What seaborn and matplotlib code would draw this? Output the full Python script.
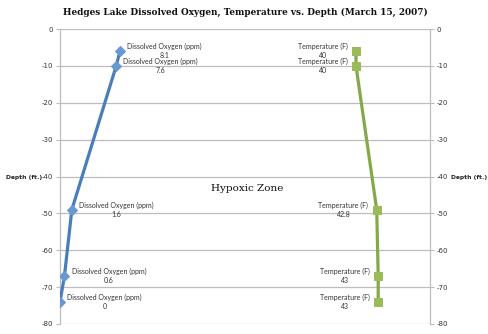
import matplotlib
matplotlib.use("Agg")
import matplotlib.pyplot as plt
import seaborn as sns
import pandas as pd

depth = [-6, -10, -49, -67, -74]
oxygen = [8.1, 7.6, 1.6, 0.6, 0.0]
temperature = [40, 40, 42.8, 43, 43]
oxygen_label = "Dissolved Oxygen (ppm)"
temp_label = "Temperature (F)"
y_ticks = [0, -10, -20, -30, -40, -50, -60, -70, -80]
title = "Hedges Lake Dissolved Oxygen, Temperature vs. Depth (March 15, 2007)"

sns.set_style("white")
plt.rcParams['font.family'] = ['DejaVu Sans']
plt.rcParams['axes.unicode_minus'] = False

blue = "#4A7EBB"
blue_m = "#6A98D0"
green = "#86A84A"
green_m = "#9BBB59"
grid_c = "#BDBDBD"

fig = plt.figure(figsize=(4.89, 3.34), dpi=100)
ax = fig.add_axes([60/489, 1-324/334, 370/489, (324-29)/334])

df_o = pd.DataFrame({"x": oxygen, "y": depth})
df_t = pd.DataFrame({"x": temperature, "y": depth})
sns.lineplot(data=df_o, x="x", y="y", sort=False, estimator=None, ax=ax,
             color=blue, lw=2.3, marker="D", markersize=5.5,
             markerfacecolor=blue_m, markeredgecolor=blue_m, zorder=3)
sns.lineplot(data=df_t, x="x", y="y", sort=False, estimator=None, ax=ax,
             color=green, lw=2.3, marker="s", markersize=5.5,
             markerfacecolor=green_m, markeredgecolor=green_m, zorder=3)

ax.set_xlim(0, 50)
ax.set_ylim(-80, 0)
ax.set_yticks(y_ticks)
ax.set_xticks([])
ax.set_xlabel("")
ax.set_ylabel("")
ax.grid(axis="y", color=grid_c, lw=0.9)
for s in ["top", "bottom"]:
    ax.spines[s].set_visible(False)
for s in ["left", "right"]:
    ax.spines[s].set_color(grid_c)
    ax.spines[s].set_linewidth(0.9)
ax.tick_params(axis="y", length=3, color=grid_c, labelsize=5, pad=2,
               labelcolor="#333333", left=True)

ax2 = ax.twinx()
ax2.set_ylim(-80, 0)
ax2.set_yticks(y_ticks)
ax2.tick_params(axis="y", length=3, color=grid_c, labelsize=5, pad=2,
                labelcolor="#333333", right=True)
for s in ax2.spines.values():
    s.set_visible(False)

for xv, yv in zip(oxygen, depth):
    ax.annotate(f"{oxygen_label}\n{xv:g}", (xv, yv), xytext=(32, 0),
                textcoords="offset points", ha="center", va="center",
                fontsize=5, family="Lato", color="#333333", linespacing=1.35)
for xv, yv in zip(temperature, depth):
    ax.annotate(f"{temp_label}\n{xv:g}", (xv, yv), xytext=(-24, 0),
                textcoords="offset points", ha="center", va="center",
                fontsize=5, family="Lato", color="#333333", linespacing=1.35)

ax.text(25.3, -43.3, "Hypoxic Zone", ha="center", va="center",
        fontsize=7.5, family="DejaVu Serif", color="#111111")

fig.text(6/489, 1-178/334, "Depth (ft.)", ha="left", va="center",
         fontsize=4.3, fontweight="bold", color="#222222")
fig.text(451/489, 1-178/334, "Depth (ft.)", ha="left", va="center",
         fontsize=4.3, fontweight="bold", color="#222222")
fig.text(245/489, 1-12/334, title, ha="center", va="center",
         fontsize=6.4, fontweight="bold", family="DejaVu Serif", color="#111111")

fig.savefig("out.png", dpi=100)
